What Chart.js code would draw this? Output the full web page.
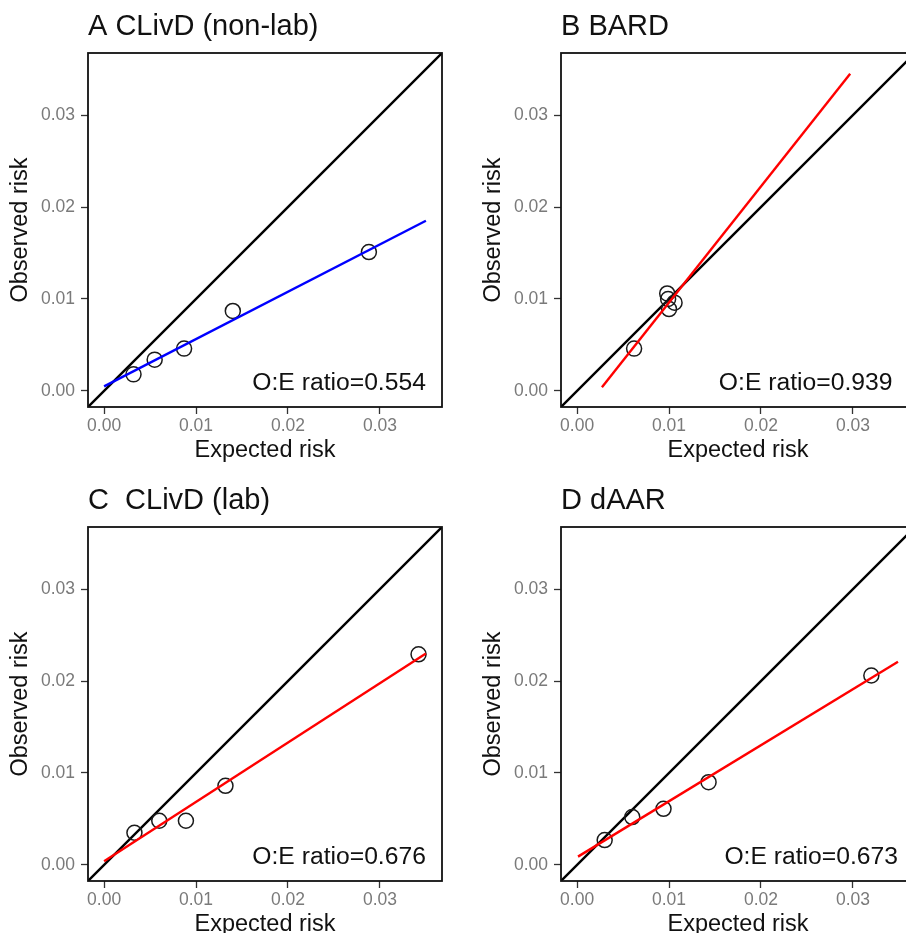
<!DOCTYPE html>
<html>
<head>
<meta charset="utf-8">
<script src="https://cdn.jsdelivr.net/npm/chart.js@4.4.1/dist/chart.umd.min.js"></script>
<style>
html, body { margin: 0; padding: 0; background: #ffffff; overflow: hidden; width: 906px; height: 933px; }
.panel { position: absolute; }
</style>
</head>
<body>
<canvas id="chartA" class="panel" width="473" height="473" style="left:0px;top:0px"></canvas>
<canvas id="chartB" class="panel" width="473" height="473" style="left:473px;top:0px"></canvas>
<canvas id="chartC" class="panel" width="473" height="473" style="left:0px;top:474px"></canvas>
<canvas id="chartD" class="panel" width="473" height="473" style="left:473px;top:474px"></canvas>
<script>
// ---------- data ----------
const panelTitles = ['A CLivD (non-lab)', 'B BARD', 'C  CLivD (lab)', 'D dAAR'];
const ratioLabels = ['O:E ratio=0.554', 'O:E ratio=0.939', 'O:E ratio=0.676', 'O:E ratio=0.673'];
const ratioLabelX = [0.035, 0.0343, 0.035, 0.0349];

const expectedA = [0.0032, 0.0055, 0.0087, 0.0140, 0.0288];
const observedA = [0.0018, 0.0034, 0.0046, 0.0087, 0.0151];
const expectedB = [0.0062, 0.0098, 0.0099, 0.0100, 0.0106];
const observedB = [0.0046, 0.0106, 0.0100, 0.0089, 0.0096];
const expectedC = [0.0033, 0.0060, 0.0089, 0.0132, 0.0342];
const observedC = [0.0035, 0.0048, 0.0048, 0.0086, 0.0229];
const expectedD = [0.0030, 0.0060, 0.0094, 0.0143, 0.0320];
const observedD = [0.0027, 0.0052, 0.0061, 0.0090, 0.0206];

// fitted calibration lines (start, end)
const fitAx = [0.0000, 0.0350]; const fitAy = [0.0005, 0.0185];
const fitBx = [0.0027, 0.0297]; const fitBy = [0.0004, 0.0345];
const fitCx = [0.0000, 0.0350]; const fitCy = [0.0004, 0.0230];
const fitDx = [0.0001, 0.0349]; const fitDy = [0.0009, 0.0221];

// axis range and ticks (both axes)
const axisRange = [-0.00175, 0.03675];
const tickValues = [0, 0.01, 0.02, 0.03];
const tickLabels = ['0.00', '0.01', '0.02', '0.03'];

// ---------- rendering ----------
Chart.defaults.font.family = "'Liberation Sans', Arial, Helvetica, sans-serif";
Chart.defaults.animation = false;

const toPts = (xs, ys) => xs.map((x, i) => ({ x: x, y: ys[i] }));

const framePlugin = {
  id: 'frameAndLabel',
  afterDatasetsDraw(chart, args, opts) {
    const { ctx, chartArea: a, scales } = chart;
    ctx.save();
    ctx.strokeStyle = '#111111';
    ctx.lineWidth = 1.8;
    ctx.strokeRect(a.left, a.top, a.right - a.left, a.bottom - a.top);
    ctx.fillStyle = '#111111';
    ctx.font = "24.7px 'Liberation Sans', Arial, sans-serif";
    ctx.textAlign = 'right';
    ctx.textBaseline = 'alphabetic';
    ctx.fillText(opts.text, scales.x.getPixelForValue(opts.x), scales.y.getPixelForValue(0) - 0.5);
    ctx.restore();
  }
};

function axisCommon(titleText, isX) {
  return {
    type: 'linear',
    min: axisRange[0],
    max: axisRange[1],
    afterBuildTicks: (s) => { s.ticks = tickValues.map(v => ({ value: v })); },
    afterFit: (s) => { if (isX) { s.height = 66; } else { s.width = 88; } },
    ticks: {
      callback: (v, i) => tickLabels[i],
      color: '#7a7a7a',
      font: { size: 17.5 },
      padding: isX ? 2 : 6,
      maxRotation: 0,
      autoSkip: false
    },
    grid: { display: true, drawOnChartArea: false, drawTicks: true, tickLength: 7, tickColor: '#333333', tickWidth: 1.3 },
    border: { display: false },
    title: {
      display: true,
      text: titleText,
      color: '#111111',
      font: { size: 23.5, lineHeight: 1.2 },
      padding: isX ? { top: 0, bottom: 8.4 } : { top: 6.9, bottom: 0 }
    }
  };
}

function makePanel(canvasId, idx, xs, ys, fx, fy, fitColor) {
  return new Chart(document.getElementById(canvasId), {
    type: 'scatter',
    data: {
      datasets: [
        {
          type: 'line',
          data: toPts(axisRange, axisRange),
          borderColor: '#000000',
          borderWidth: 2.4,
          pointRadius: 0,
          tension: 0,
          fill: false,
          order: 3
        },
        {
          type: 'scatter',
          data: toPts(xs, ys),
          pointStyle: 'circle',
          pointRadius: 7.5,
          pointHoverRadius: 7.5,
          borderColor: '#1a1a1a',
          backgroundColor: 'rgba(0,0,0,0)',
          borderWidth: 1.5,
          order: 2
        },
        {
          type: 'line',
          data: toPts(fx, fy),
          borderColor: fitColor,
          borderWidth: 2.4,
          pointRadius: 0,
          tension: 0,
          fill: false,
          order: 1
        }
      ]
    },
    options: {
      responsive: false,
      devicePixelRatio: 1,
      animation: false,
      layout: { padding: { left: 0, right: 31, top: 0, bottom: 0 } },
      scales: {
        x: axisCommon('Expected risk', true),
        y: axisCommon('Observed risk', false)
      },
      plugins: {
        legend: { display: false },
        tooltip: { enabled: false },
        title: {
          display: true,
          text: panelTitles[idx],
          align: 'start',
          fullSize: false,
          color: '#111111',
          font: { size: 29, weight: 'normal', lineHeight: 1.2 },
          padding: { top: 9.8, bottom: 8.4 }
        },
        frameAndLabel: { text: ratioLabels[idx], x: ratioLabelX[idx] }
      }
    },
    plugins: [framePlugin]
  });
}

makePanel('chartA', 0, expectedA, observedA, fitAx, fitAy, '#0000ff');
makePanel('chartB', 1, expectedB, observedB, fitBx, fitBy, '#ff0000');
makePanel('chartC', 2, expectedC, observedC, fitCx, fitCy, '#ff0000');
makePanel('chartD', 3, expectedD, observedD, fitDx, fitDy, '#ff0000');
</script>
</body>
</html>
